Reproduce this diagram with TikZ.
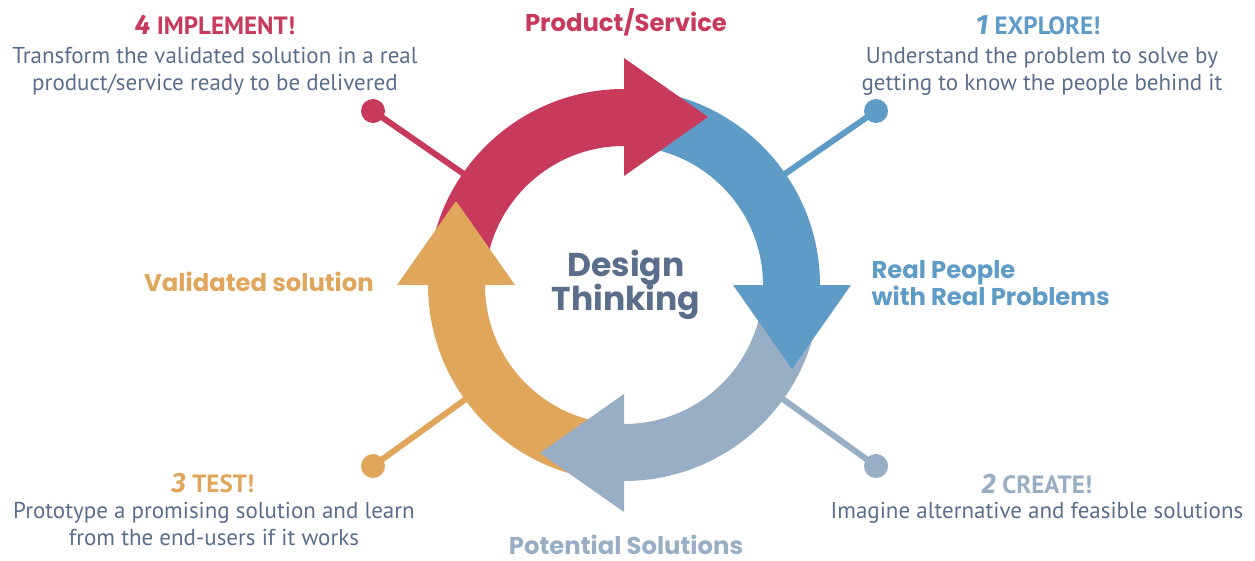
\documentclass[tikz,border=0pt]{standalone}
\usepackage{fontspec}
\setmainfont{PT Sans}
\newfontfamily\headfont{Poppins}
\newfontfamily\numfont{Fira Sans}
\usetikzlibrary{calc}
\definecolor{dtred}{RGB}{200,58,92}
\definecolor{dtblue}{RGB}{94,155,198}
\definecolor{dtgray}{RGB}{151,174,197}
\definecolor{dtorange}{RGB}{224,166,92}
\definecolor{dtslate}{RGB}{90,110,140}

\begin{document}
\begin{tikzpicture}[x=1pt, y=1pt,
  dot/.style={circle, inner sep=0pt, minimum size=24pt},
  spoke/.style={line width=6pt},
  title/.style={anchor=base, font=\bfseries\fontsize{25}{25}\selectfont},
  desc/.style={anchor=base, align=center, text=dtslate, font=\fontsize{23}{27}\selectfont},
  phase/.style={anchor=base, font=\headfont\bfseries\fontsize{24.3}{24.5}\selectfont}]
\useasboundingbox (0,0) rectangle (1255,-560);
\coordinate (C) at (624,-285);

\foreach \name/\pos/\col in {imp/{373,-111}/dtred, exp/{876,-111}/dtblue, cre/{876,-466}/dtgray, tst/{373,-466}/dtorange}{
  \node[dot, fill=\col] (\name) at (\pos) {};
  \draw[spoke, draw=\col] (\name.center) -- ($(C)!0.55!(\name)$);
}

\foreach \s/\e/\col in {180/90/dtred, 90/0/dtblue, 0/-90/dtgray, -90/-180/dtorange}
  \fill[\col] ($(C)+(\s:196)$) arc[start angle=\s, end angle=\e, radius=196]
    -- ($(C)+(\e:139)$) arc[start angle=\e, end angle=\s, radius=139] -- cycle;

\foreach \a/\col in {90/dtred, 0/dtblue, -90/dtgray, 180/dtorange}
  \fill[\col] ($(C)+(\a:109)$) -- ($(C)+(\a:227)$) -- ($(C)+(\a:168)+(\a-90:84)$) -- cycle;

\node[anchor=base, text=dtslate, align=center, font=\headfont\bfseries\fontsize{33}{34}\selectfont] (dt) at (626,-310) {Design\\[-3pt]Thinking};

\node[phase, text=dtred] (ps) at (626,-31) {Product/Service};
\node[phase, text=dtblue, anchor=base west, align=left] (rp) at (868,-305) {Real People\\with Real Problems};
\node[phase, text=dtorange] (vs) at (259,-291) {Validated solution};
\node[phase, text=dtgray] (pot) at (626,-554) {Potential Solutions};

\node[title, text=dtred] (t4) at (215,-34) {{\numfont\itshape\fontsize{28}{28}\selectfont 4} IMPLEMENT!};
\node[desc] (d4) at (215,-90) {Transform the validated solution in a real\\product/service ready to be delivered};

\node[title, text=dtblue] (t1) at (1038,-34) {{\numfont\itshape\fontsize{28}{28}\selectfont 1} EXPLORE!};
\node[desc] (d1) at (1042,-90) {Understand the problem to solve by\\getting to know the people behind it};

\node[title, text=dtorange] (t3) at (213,-492) {{\numfont\itshape\fontsize{28}{28}\selectfont 3} TEST!};
\node[desc] (d3) at (214,-545) {Prototype a promising solution and learn\\from the end-users if it works};

\node[title, text=dtgray] (t2) at (1037,-493) {{\numfont\itshape\fontsize{28}{28}\selectfont 2} CREATE!};
\node[desc] (d2) at (1037,-518) {Imagine alternative and feasible solutions};
\end{tikzpicture}
\end{document}
